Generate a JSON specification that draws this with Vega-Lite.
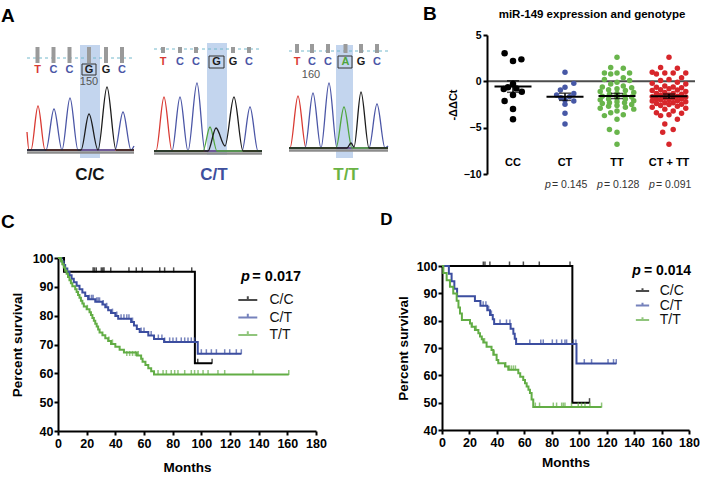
{
"$schema":"https://vega.github.io/schema/vega-lite/v6.json",
"padding":{"left":0,"top":4,"right":0,"bottom":0},
"columns":2,
"align":"each",
"bounds":"flush",
"spacing":{"row":84,"column":81},
"resolve":{"scale":{"color":"independent","fill":"independent"},"legend":{"color":"independent","fill":"independent"}},
"config":{
 "font":"Liberation Sans",
 "view":{"stroke":null},
 "axis":{"grid":false,"domainColor":"#000","tickColor":"#000","labelColor":"#000","titleColor":"#000","domainWidth":2,"tickWidth":2,"tickSize":4,"labelFontWeight":"bold","titleFontWeight":"bold","labelFont":"Liberation Sans","titleFont":"Liberation Sans","labelOverlap":false,"labelFlush":false}
},
"datasets":{
 "trace":[
  {"tr":"1T","base":"T","scan":0,"sig":18},{"tr":"1T","base":"T","scan":2,"sig":0},{"tr":"1T","base":"T","scan":4,"sig":0},{"tr":"1T","base":"T","scan":11,"sig":44},{"tr":"1T","base":"T","scan":18,"sig":0},{"tr":"1T","base":"T","scan":107,"sig":0},
  {"tr":"1C","base":"C","scan":0,"sig":0},{"tr":"1C","base":"C","scan":19,"sig":0},{"tr":"1C","base":"C","scan":27,"sig":41},{"tr":"1C","base":"C","scan":35,"sig":0},{"tr":"1C","base":"C","scan":43,"sig":52},{"tr":"1C","base":"C","scan":51,"sig":0},{"tr":"1C","base":"C","scan":88,"sig":0},{"tr":"1C","base":"C","scan":96,"sig":38},{"tr":"1C","base":"C","scan":104,"sig":0},{"tr":"1C","base":"C","scan":107,"sig":4},
  {"tr":"1G","base":"G","scan":0,"sig":0},{"tr":"1G","base":"G","scan":54,"sig":0},{"tr":"1G","base":"G","scan":62,"sig":36},{"tr":"1G","base":"G","scan":71,"sig":0},{"tr":"1G","base":"G","scan":80,"sig":63},{"tr":"1G","base":"G","scan":89,"sig":0},{"tr":"1G","base":"G","scan":107,"sig":0},
  {"tr":"2T","base":"T","scan":127,"sig":-1},{"tr":"2T","base":"T","scan":129,"sig":-1},{"tr":"2T","base":"T","scan":137,"sig":53},{"tr":"2T","base":"T","scan":145,"sig":-1},{"tr":"2T","base":"T","scan":235,"sig":-1},
  {"tr":"2C","base":"C","scan":127,"sig":-1},{"tr":"2C","base":"C","scan":145,"sig":-1},{"tr":"2C","base":"C","scan":153,"sig":53},{"tr":"2C","base":"C","scan":161,"sig":-1},{"tr":"2C","base":"C","scan":170,"sig":67},{"tr":"2C","base":"C","scan":178,"sig":-1},{"tr":"2C","base":"C","scan":215,"sig":-1},{"tr":"2C","base":"C","scan":223,"sig":43},{"tr":"2C","base":"C","scan":231,"sig":-1},{"tr":"2C","base":"C","scan":235,"sig":-1},
  {"tr":"2A","base":"A","scan":127,"sig":-1},{"tr":"2A","base":"A","scan":176,"sig":-1},{"tr":"2A","base":"A","scan":183,"sig":23},{"tr":"2A","base":"A","scan":190,"sig":-1},{"tr":"2A","base":"A","scan":235,"sig":-1},
  {"tr":"2G","base":"G","scan":127,"sig":-1},{"tr":"2G","base":"G","scan":181,"sig":-1},{"tr":"2G","base":"G","scan":189,"sig":22},{"tr":"2G","base":"G","scan":198,"sig":4},{"tr":"2G","base":"G","scan":207,"sig":53},{"tr":"2G","base":"G","scan":216,"sig":-1},{"tr":"2G","base":"G","scan":235,"sig":-1},
  {"tr":"3T","base":"T","scan":262,"sig":2},{"tr":"3T","base":"T","scan":263,"sig":2},{"tr":"3T","base":"T","scan":271,"sig":54},{"tr":"3T","base":"T","scan":279,"sig":2},{"tr":"3T","base":"T","scan":361,"sig":2},
  {"tr":"3C","base":"C","scan":262,"sig":2},{"tr":"3C","base":"C","scan":278,"sig":2},{"tr":"3C","base":"C","scan":286,"sig":57},{"tr":"3C","base":"C","scan":294,"sig":2},{"tr":"3C","base":"C","scan":302,"sig":67},{"tr":"3C","base":"C","scan":310,"sig":2},{"tr":"3C","base":"C","scan":342,"sig":2},{"tr":"3C","base":"C","scan":350,"sig":46},{"tr":"3C","base":"C","scan":358,"sig":2},{"tr":"3C","base":"C","scan":361,"sig":4},
  {"tr":"3A","base":"A","scan":262,"sig":2},{"tr":"3A","base":"A","scan":309,"sig":2},{"tr":"3A","base":"A","scan":317,"sig":43},{"tr":"3A","base":"A","scan":325,"sig":2},{"tr":"3A","base":"A","scan":361,"sig":2},
  {"tr":"3G","base":"G","scan":262,"sig":2},{"tr":"3G","base":"G","scan":320,"sig":2},{"tr":"3G","base":"G","scan":324,"sig":7},{"tr":"3G","base":"G","scan":327,"sig":3},{"tr":"3G","base":"G","scan":334,"sig":58},{"tr":"3G","base":"G","scan":342,"sig":2},{"tr":"3G","base":"G","scan":361,"sig":2}
 ],
 "calls":[
  {"scan":10.5,"sig":80,"base":"T"},{"scan":26.5,"sig":80,"base":"C"},{"scan":42.5,"sig":80,"base":"C"},{"scan":62,"sig":80,"base":"G"},{"scan":79,"sig":80,"base":"G"},{"scan":95,"sig":80,"base":"C"},
  {"scan":136,"sig":88,"base":"T"},{"scan":153,"sig":88,"base":"C"},{"scan":169,"sig":88,"base":"C"},{"scan":189.5,"sig":88,"base":"G"},{"scan":206,"sig":88,"base":"G"},{"scan":222,"sig":88,"base":"C"},
  {"scan":270,"sig":88,"base":"T"},{"scan":285,"sig":88,"base":"C"},{"scan":301,"sig":88,"base":"C"},{"scan":318.5,"sig":88,"base":"A"},{"scan":334,"sig":88,"base":"G"},{"scan":350,"sig":88,"base":"C"}
 ],
 "bars":[
  {"scan":10.5,"sig":103,"sig2":87},{"scan":26.5,"sig":103,"sig2":87},{"scan":42.5,"sig":103,"sig2":87},{"scan":62,"sig":103,"sig2":87},{"scan":79,"sig":103,"sig2":87},{"scan":95,"sig":103,"sig2":87},
  {"scan":136,"sig":103,"sig2":97},{"scan":153,"sig":103,"sig2":97},{"scan":169,"sig":103,"sig2":97},{"scan":206,"sig":103,"sig2":97},{"scan":222,"sig":103,"sig2":97},
  {"scan":270,"sig":106,"sig2":97},{"scan":285,"sig":106,"sig2":97},{"scan":301,"sig":106,"sig2":97},{"scan":318.5,"sig":106,"sig2":97},{"scan":334,"sig":106,"sig2":97},{"scan":350,"sig":106,"sig2":97}
 ],
 "hl":[{"scan":53,"scan2":73,"sig":-8,"sig2":105},{"scan":180,"scan2":200,"sig":-5,"sig2":107},{"scan":309,"scan2":326,"sig":-8,"sig2":105}],
 "box":[{"scan":55,"scan2":69,"sig":75,"sig2":86},{"scan":182,"scan2":197,"sig":82,"sig2":94},{"scan":311,"scan2":325,"sig":82,"sig2":94}],
 "dash":[{"scan":0,"scan2":107,"sig":92},{"scan":127,"scan2":235,"sig":101},{"scan":262,"scan2":361,"sig":99}],
 "baseln":[{"scan":0,"scan2":107,"sig":-2.5},{"scan":127,"scan2":235,"sig":-3.5},{"scan":262,"scan2":361,"sig":-0.5}],
 "num":[{"scan":62,"sig":68,"t":"150"},{"scan":284,"sig":75,"t":"160"}],
 "gt":[{"scan":63,"sig":-25,"t":"C/C"},{"scan":187,"sig":-25,"t":"C/T"},{"scan":319,"sig":-25,"t":"T/T"}],
 "pts":[
  {"g":"CC","v":3.02,"s":-2},{"g":"CC","v":2.19,"s":0},{"g":"CC","v":2.37,"s":2},{"g":"CC","v":-0.29,"s":0},{"g":"CC","v":-0.65,"s":-1.2},{"g":"CC","v":-0.83,"s":-2.2},{"g":"CC","v":-0.76,"s":0.8},{"g":"CC","v":-1.12,"s":2.1},{"g":"CC","v":-1.47,"s":0},{"g":"CC","v":-2.12,"s":-2},{"g":"CC","v":-2.98,"s":0},{"g":"CC","v":-4.1,"s":0},
  {"g":"CT","v":0.97,"s":0},{"g":"CT","v":-0.22,"s":2.1},{"g":"CT","v":-0.65,"s":0},{"g":"CT","v":-0.94,"s":-1.1},{"g":"CT","v":-1.3,"s":2.1},{"g":"CT","v":-1.47,"s":-2},{"g":"CT","v":-1.65,"s":1.1},{"g":"CT","v":-1.76,"s":-1},{"g":"CT","v":-2.01,"s":0},{"g":"CT","v":-2.12,"s":2.1},{"g":"CT","v":-2.48,"s":0},{"g":"CT","v":-3.45,"s":0},{"g":"CT","v":-4.6,"s":0},
  {"g":"TT","v":2.6,"s":0},{"g":"TT","v":1.5,"s":-1.5},{"g":"TT","v":1.4,"s":1.5},{"g":"TT","v":0.9,"s":-3},{"g":"TT","v":0.9,"s":0},{"g":"TT","v":0.9,"s":3},{"g":"TT","v":0.8,"s":-1.5},{"g":"TT","v":0.4,"s":1.5},{"g":"TT","v":0.2,"s":-3},{"g":"TT","v":0.1,"s":3},
  {"g":"TT","v":-0.1,"s":0},{"g":"TT","v":-0.3,"s":-1.5},{"g":"TT","v":-0.5,"s":1.5},{"g":"TT","v":-0.6,"s":-3.5},{"g":"TT","v":-0.7,"s":3.5},{"g":"TT","v":-0.8,"s":0},{"g":"TT","v":-0.9,"s":-2},{"g":"TT","v":-1.0,"s":2},{"g":"TT","v":-1.1,"s":-4},{"g":"TT","v":-1.2,"s":4},
  {"g":"TT","v":-1.3,"s":0},{"g":"TT","v":-1.4,"s":-1.8},{"g":"TT","v":-1.5,"s":1.8},{"g":"TT","v":-1.6,"s":-3.5},{"g":"TT","v":-1.7,"s":3.5},{"g":"TT","v":-1.8,"s":0},{"g":"TT","v":-1.9,"s":-2},{"g":"TT","v":-1.9,"s":2},{"g":"TT","v":-2.0,"s":-4},{"g":"TT","v":-2.1,"s":4},
  {"g":"TT","v":-2.2,"s":0},{"g":"TT","v":-2.3,"s":-1.8},{"g":"TT","v":-2.3,"s":1.8},{"g":"TT","v":-2.4,"s":-3.5},{"g":"TT","v":-2.5,"s":3.5},{"g":"TT","v":-2.6,"s":0},{"g":"TT","v":-2.7,"s":-2},{"g":"TT","v":-2.8,"s":2},{"g":"TT","v":-2.9,"s":-4},{"g":"TT","v":-3.0,"s":4},
  {"g":"TT","v":-3.2,"s":0},{"g":"TT","v":-3.4,"s":-1.5},{"g":"TT","v":-3.6,"s":1.5},{"g":"TT","v":-3.7,"s":-3},{"g":"TT","v":-4.1,"s":0},{"g":"TT","v":-5.2,"s":-1.8},{"g":"TT","v":-5.5,"s":0},{"g":"TT","v":-6.8,"s":0},
  {"g":"CT + TT","v":2.6,"s":0},{"g":"CT + TT","v":1.5,"s":-2},{"g":"CT + TT","v":1.4,"s":2},{"g":"CT + TT","v":0.97,"s":-4},{"g":"CT + TT","v":0.9,"s":4},{"g":"CT + TT","v":0.9,"s":-1},{"g":"CT + TT","v":0.9,"s":1},{"g":"CT + TT","v":0.8,"s":-3},{"g":"CT + TT","v":0.4,"s":3},{"g":"CT + TT","v":0.2,"s":0},
  {"g":"CT + TT","v":0.1,"s":-2},{"g":"CT + TT","v":-0.1,"s":2},{"g":"CT + TT","v":-0.22,"s":-4},{"g":"CT + TT","v":-0.3,"s":4},{"g":"CT + TT","v":-0.5,"s":-1},{"g":"CT + TT","v":-0.6,"s":1},{"g":"CT + TT","v":-0.65,"s":-3},{"g":"CT + TT","v":-0.7,"s":3},{"g":"CT + TT","v":-0.8,"s":0},{"g":"CT + TT","v":-0.9,"s":-2},
  {"g":"CT + TT","v":-0.94,"s":2},{"g":"CT + TT","v":-1.0,"s":-4},{"g":"CT + TT","v":-1.1,"s":4},{"g":"CT + TT","v":-1.2,"s":-1},{"g":"CT + TT","v":-1.3,"s":1},{"g":"CT + TT","v":-1.3,"s":-3},{"g":"CT + TT","v":-1.4,"s":3},{"g":"CT + TT","v":-1.47,"s":0},{"g":"CT + TT","v":-1.5,"s":-2},{"g":"CT + TT","v":-1.6,"s":2},
  {"g":"CT + TT","v":-1.65,"s":-4},{"g":"CT + TT","v":-1.7,"s":4},{"g":"CT + TT","v":-1.76,"s":-1},{"g":"CT + TT","v":-1.8,"s":1},{"g":"CT + TT","v":-1.9,"s":-3},{"g":"CT + TT","v":-1.9,"s":3},{"g":"CT + TT","v":-2.0,"s":0},{"g":"CT + TT","v":-2.01,"s":-2},{"g":"CT + TT","v":-2.1,"s":2},{"g":"CT + TT","v":-2.12,"s":-4},
  {"g":"CT + TT","v":-2.2,"s":4},{"g":"CT + TT","v":-2.3,"s":-1},{"g":"CT + TT","v":-2.3,"s":1},{"g":"CT + TT","v":-2.4,"s":-3},{"g":"CT + TT","v":-2.48,"s":3},{"g":"CT + TT","v":-2.5,"s":0},{"g":"CT + TT","v":-2.6,"s":-2},{"g":"CT + TT","v":-2.7,"s":2},{"g":"CT + TT","v":-2.8,"s":-4},{"g":"CT + TT","v":-2.9,"s":4},
  {"g":"CT + TT","v":-3.0,"s":-1},{"g":"CT + TT","v":-3.2,"s":1},{"g":"CT + TT","v":-3.4,"s":-3},{"g":"CT + TT","v":-3.45,"s":3},{"g":"CT + TT","v":-3.6,"s":0},{"g":"CT + TT","v":-3.7,"s":-2},{"g":"CT + TT","v":-4.1,"s":2},{"g":"CT + TT","v":-4.6,"s":-1},{"g":"CT + TT","v":-5.2,"s":1},{"g":"CT + TT","v":-5.5,"s":-1.5},
  {"g":"CT + TT","v":-6.8,"s":0}
 ],
 "cats":[{"g":"CC"},{"g":"CT"},{"g":"TT"},{"g":"CT + TT"}],
 "pv":[{"g":"CT","p":"= 0.145"},{"g":"TT","p":"= 0.128"},{"g":"CT + TT","p":"= 0.091"}],
 "cStep":[
  {"g":"C/C","m":0,"s":100},{"g":"C/C","m":4.2,"s":95.2},{"g":"C/C","m":95.5,"s":63.5},{"g":"C/C","m":107.5,"s":63.5},
  {"g":"C/T","m":0,"s":100},{"g":"C/T","m":2.5,"s":98.8},{"g":"C/T","m":4,"s":97.6},{"g":"C/T","m":5,"s":96.4},{"g":"C/T","m":6.5,"s":95.2},{"g":"C/T","m":8,"s":94},{"g":"C/T","m":9.5,"s":92.8},{"g":"C/T","m":11,"s":91.6},{"g":"C/T","m":13,"s":90.4},{"g":"C/T","m":15,"s":89.2},{"g":"C/T","m":17,"s":88},{"g":"C/T","m":19,"s":86.8},{"g":"C/T","m":21,"s":85.7},{"g":"C/T","m":26,"s":84.8},{"g":"C/T","m":31,"s":83.9},{"g":"C/T","m":33,"s":82.9},{"g":"C/T","m":35,"s":81.9},{"g":"C/T","m":37,"s":80.9},{"g":"C/T","m":40,"s":79.9},{"g":"C/T","m":42,"s":78.9},{"g":"C/T","m":51,"s":77.8},{"g":"C/T","m":53,"s":76.6},{"g":"C/T","m":55,"s":75.4},{"g":"C/T","m":57,"s":74.3},{"g":"C/T","m":63,"s":73.1},{"g":"C/T","m":67,"s":71.9},{"g":"C/T","m":74,"s":70.9},{"g":"C/T","m":97.5,"s":66.8},{"g":"C/T","m":127.9,"s":66.8},
  {"g":"T/T","m":0,"s":100},{"g":"T/T","m":2,"s":98.9},{"g":"T/T","m":3,"s":97.8},{"g":"T/T","m":4,"s":96.7},{"g":"T/T","m":5,"s":95.6},{"g":"T/T","m":6,"s":94.5},{"g":"T/T","m":7,"s":93.4},{"g":"T/T","m":8,"s":92.3},{"g":"T/T","m":9,"s":91.2},{"g":"T/T","m":10,"s":90.2},{"g":"T/T","m":12,"s":89.2},{"g":"T/T","m":13,"s":88.2},{"g":"T/T","m":14,"s":87.2},{"g":"T/T","m":15,"s":86.2},{"g":"T/T","m":16,"s":85.2},{"g":"T/T","m":17,"s":84.2},{"g":"T/T","m":18,"s":83.2},{"g":"T/T","m":20,"s":82.2},{"g":"T/T","m":22,"s":81.2},{"g":"T/T","m":23,"s":80.2},{"g":"T/T","m":24,"s":79.2},{"g":"T/T","m":25,"s":78.2},{"g":"T/T","m":26,"s":77.2},{"g":"T/T","m":27,"s":76.2},{"g":"T/T","m":28,"s":75.2},{"g":"T/T","m":29,"s":74.2},{"g":"T/T","m":31,"s":73.2},{"g":"T/T","m":33,"s":72.2},{"g":"T/T","m":35,"s":71.2},{"g":"T/T","m":37,"s":70.2},{"g":"T/T","m":40,"s":69.2},{"g":"T/T","m":43,"s":68.2},{"g":"T/T","m":46,"s":67.2},{"g":"T/T","m":55,"s":66.2},{"g":"T/T","m":58,"s":65.1},{"g":"T/T","m":59,"s":64},{"g":"T/T","m":61,"s":62.9},{"g":"T/T","m":63,"s":61.8},{"g":"T/T","m":65,"s":60.7},{"g":"T/T","m":67,"s":59.6},{"g":"T/T","m":161,"s":59.6}
 ],
 "cCens":[
  {"g":"C/C","m":24.5,"s":95.2},{"g":"C/C","m":25.5,"s":95.2},{"g":"C/C","m":26.7,"s":95.2},{"g":"C/C","m":30.2,"s":95.2},{"g":"C/C","m":31.2,"s":95.2},{"g":"C/C","m":32.1,"s":95.2},{"g":"C/C","m":36.8,"s":95.2},{"g":"C/C","m":49.5,"s":95.2},{"g":"C/C","m":54.6,"s":95.2},{"g":"C/C","m":58.8,"s":95.2},{"g":"C/C","m":71,"s":95.2},{"g":"C/C","m":74.4,"s":95.2},{"g":"C/C","m":80.7,"s":95.2},{"g":"C/C","m":93.3,"s":95.2},{"g":"C/C","m":97.5,"s":63.5},{"g":"C/C","m":107.5,"s":63.5},
  {"g":"C/T","m":22,"s":85.7},{"g":"C/T","m":23.5,"s":85.7},{"g":"C/T","m":24.5,"s":85.7},{"g":"C/T","m":27,"s":84.8},{"g":"C/T","m":28,"s":84.8},{"g":"C/T","m":29,"s":84.8},{"g":"C/T","m":31.5,"s":83.9},{"g":"C/T","m":34,"s":82.9},{"g":"C/T","m":38,"s":80.9},{"g":"C/T","m":41,"s":79.9},{"g":"C/T","m":44,"s":78.9},{"g":"C/T","m":46,"s":78.9},{"g":"C/T","m":48,"s":78.9},{"g":"C/T","m":49.5,"s":78.9},{"g":"C/T","m":52,"s":77.8},{"g":"C/T","m":58,"s":74.3},{"g":"C/T","m":60,"s":74.3},{"g":"C/T","m":65,"s":73.1},{"g":"C/T","m":70,"s":71.9},{"g":"C/T","m":72.5,"s":71.9},{"g":"C/T","m":74.4,"s":70.9},{"g":"C/T","m":77.9,"s":70.9},{"g":"C/T","m":80.2,"s":70.9},{"g":"C/T","m":82.6,"s":70.9},{"g":"C/T","m":86,"s":70.9},{"g":"C/T","m":88.4,"s":70.9},{"g":"C/T","m":90.7,"s":70.9},{"g":"C/T","m":93,"s":70.9},{"g":"C/T","m":95.3,"s":70.9},{"g":"C/T","m":100,"s":66.8},{"g":"C/T","m":103.5,"s":66.8},{"g":"C/T","m":107,"s":66.8},{"g":"C/T","m":110.5,"s":66.8},{"g":"C/T","m":116.3,"s":66.8},{"g":"C/T","m":119.8,"s":66.8},{"g":"C/T","m":124.4,"s":66.8},{"g":"C/T","m":127.9,"s":66.8},
  {"g":"T/T","m":20.5,"s":82.2},{"g":"T/T","m":35.5,"s":71.2},{"g":"T/T","m":38,"s":70.2},{"g":"T/T","m":48,"s":66.2},{"g":"T/T","m":50,"s":66.2},{"g":"T/T","m":52,"s":66.2},{"g":"T/T","m":54,"s":66.2},{"g":"T/T","m":56,"s":66.2},{"g":"T/T","m":69.8,"s":59.6},{"g":"T/T","m":73.3,"s":59.6},{"g":"T/T","m":75.6,"s":59.6},{"g":"T/T","m":79,"s":59.6},{"g":"T/T","m":81.4,"s":59.6},{"g":"T/T","m":83.7,"s":59.6},{"g":"T/T","m":88.4,"s":59.6},{"g":"T/T","m":93,"s":59.6},{"g":"T/T","m":95.3,"s":59.6},{"g":"T/T","m":97.7,"s":59.6},{"g":"T/T","m":101.2,"s":59.6},{"g":"T/T","m":104.7,"s":59.6},{"g":"T/T","m":111.6,"s":59.6},{"g":"T/T","m":116.3,"s":59.6},{"g":"T/T","m":136,"s":59.6},{"g":"T/T","m":161,"s":59.6}
 ],
 "dStep":[
  {"g":"C/C","m":0,"s":100},{"g":"C/C","m":95,"s":50},{"g":"C/C","m":107.5,"s":50},
  {"g":"C/T","m":0,"s":100},{"g":"C/T","m":5,"s":97.2},{"g":"C/T","m":7,"s":94.4},{"g":"C/T","m":9,"s":91.7},{"g":"C/T","m":11,"s":88.9},{"g":"C/T","m":24,"s":87.2},{"g":"C/T","m":28,"s":85.5},{"g":"C/T","m":33,"s":83.8},{"g":"C/T","m":35,"s":82.1},{"g":"C/T","m":37,"s":80.5},{"g":"C/T","m":38,"s":78.8},{"g":"C/T","m":50,"s":77},{"g":"C/T","m":52,"s":75.2},{"g":"C/T","m":53,"s":73.4},{"g":"C/T","m":54,"s":71.5},{"g":"C/T","m":98,"s":64.3},{"g":"C/T","m":127,"s":64.3},
  {"g":"T/T","m":0,"s":100},{"g":"T/T","m":1,"s":97.4},{"g":"T/T","m":3.4,"s":94.8},{"g":"T/T","m":5.8,"s":92.4},{"g":"T/T","m":8.2,"s":89.9},{"g":"T/T","m":10.7,"s":87.3},{"g":"T/T","m":12,"s":84.8},{"g":"T/T","m":13.1,"s":82.6},{"g":"T/T","m":14.5,"s":80.2},{"g":"T/T","m":20.4,"s":79},{"g":"T/T","m":21.6,"s":77.8},{"g":"T/T","m":24,"s":76.6},{"g":"T/T","m":26.5,"s":75.4},{"g":"T/T","m":27.7,"s":74.2},{"g":"T/T","m":29,"s":73.2},{"g":"T/T","m":30.1,"s":72},{"g":"T/T","m":32.5,"s":70.5},{"g":"T/T","m":36.1,"s":69.3},{"g":"T/T","m":37.4,"s":67.5},{"g":"T/T","m":39.8,"s":65.6},{"g":"T/T","m":41,"s":64.4},{"g":"T/T","m":45.9,"s":63.2},{"g":"T/T","m":48.3,"s":62},{"g":"T/T","m":55.6,"s":60.8},{"g":"T/T","m":57,"s":59.5},{"g":"T/T","m":59.2,"s":58.3},{"g":"T/T","m":60.5,"s":57.1},{"g":"T/T","m":61.7,"s":55.9},{"g":"T/T","m":63,"s":54.7},{"g":"T/T","m":64.1,"s":53.5},{"g":"T/T","m":65.3,"s":51.2},{"g":"T/T","m":66.5,"s":48.4},{"g":"T/T","m":116.3,"s":48.4}
 ],
 "dCens":[
  {"g":"C/C","m":30.1,"s":100},{"g":"C/C","m":31.3,"s":100},{"g":"C/C","m":34.9,"s":100},{"g":"C/C","m":49.2,"s":100},{"g":"C/C","m":59.3,"s":100},{"g":"C/C","m":70.9,"s":100},{"g":"C/C","m":93.3,"s":100},{"g":"C/C","m":107.5,"s":50},
  {"g":"C/T","m":30,"s":85.5},{"g":"C/T","m":32,"s":85.5},{"g":"C/T","m":34,"s":83.8},{"g":"C/T","m":36,"s":82.1},{"g":"C/T","m":42.3,"s":78.8},{"g":"C/T","m":47,"s":78.8},{"g":"C/T","m":49.5,"s":78.8},{"g":"C/T","m":64,"s":71.5},{"g":"C/T","m":72,"s":71.5},{"g":"C/T","m":73.8,"s":71.5},{"g":"C/T","m":80.4,"s":71.5},{"g":"C/T","m":83.5,"s":71.5},{"g":"C/T","m":87.2,"s":71.5},{"g":"C/T","m":89.6,"s":71.5},{"g":"C/T","m":90.8,"s":71.5},{"g":"C/T","m":95.7,"s":71.5},{"g":"C/T","m":97.6,"s":71.5},{"g":"C/T","m":103.7,"s":64.3},{"g":"C/T","m":109,"s":64.3},{"g":"C/T","m":121,"s":64.3},{"g":"C/T","m":125,"s":64.3},{"g":"C/T","m":127,"s":64.3},
  {"g":"T/T","m":22,"s":77.8},{"g":"T/T","m":25,"s":76.6},{"g":"T/T","m":31,"s":72},{"g":"T/T","m":38,"s":67.5},{"g":"T/T","m":46.5,"s":63.2},{"g":"T/T","m":49,"s":62},{"g":"T/T","m":50.5,"s":62},{"g":"T/T","m":52,"s":62},{"g":"T/T","m":53.5,"s":62},{"g":"T/T","m":68,"s":48.4},{"g":"T/T","m":71.1,"s":48.4},{"g":"T/T","m":81.1,"s":48.4},{"g":"T/T","m":83.5,"s":48.4},{"g":"T/T","m":87.2,"s":48.4},{"g":"T/T","m":88.4,"s":48.4},{"g":"T/T","m":89.6,"s":48.4},{"g":"T/T","m":94.4,"s":48.4},{"g":"T/T","m":99.3,"s":48.4},{"g":"T/T","m":101.7,"s":48.4},{"g":"T/T","m":104.2,"s":48.4},{"g":"T/T","m":107.8,"s":48.4},{"g":"T/T","m":116.3,"s":48.4}
 ]
},
"concat":[
 {
  "width":303,"height":131,
  "layer":[
   {"data":{"name":"hl"},"mark":{"type":"rect","color":"#c3d5ee"},"encoding":{
     "x":{"field":"scan","type":"quantitative","scale":{"domain":[31,334],"nice":false,"zero":false},"axis":null},
     "y":{"field":"sig","type":"quantitative","scale":{"domain":[-16,115],"nice":false,"zero":false},"axis":null},
     "x2":{"field":"scan2"},"y2":{"field":"sig2"}}},
   {"data":{"name":"dash"},"mark":{"type":"rule","color":"#74b9cc","strokeWidth":1,"strokeDash":[3,3]},"encoding":{
     "x":{"field":"scan","type":"quantitative","axis":null},"y":{"field":"sig","type":"quantitative","axis":null},"x2":{"field":"scan2"}}},
   {"data":{"name":"bars"},"mark":{"type":"rule","color":"#9a9a9a","strokeWidth":4},"encoding":{
     "x":{"field":"scan","type":"quantitative","axis":null},"y":{"field":"sig","type":"quantitative","axis":null},"y2":{"field":"sig2"}}},
   {"data":{"name":"baseln"},"mark":{"type":"rule","color":"#8c8c8c","strokeWidth":2.5},"encoding":{
     "x":{"field":"scan","type":"quantitative","axis":null},"y":{"field":"sig","type":"quantitative","axis":null},"x2":{"field":"scan2"}}},
   {"data":{"name":"trace"},"mark":{"type":"line","interpolate":"monotone","strokeWidth":1.3},"encoding":{
     "x":{"field":"scan","type":"quantitative","axis":null},"y":{"field":"sig","type":"quantitative","axis":null},
     "detail":{"field":"tr","type":"nominal"},
     "color":{"field":"base","type":"nominal","scale":{"domain":["T","C","G","A"],"range":["#d93a33","#4b56a6","#1c1c1c","#4fa53c"]},"legend":null}}},
   {"data":{"name":"box"},"mark":{"type":"rect","filled":false,"color":"#333333","strokeWidth":1},"encoding":{
     "x":{"field":"scan","type":"quantitative","axis":null},"y":{"field":"sig","type":"quantitative","axis":null},"x2":{"field":"scan2"},"y2":{"field":"sig2"}}},
   {"data":{"name":"calls"},"mark":{"type":"text","fontSize":11,"fontWeight":"bold","baseline":"middle"},"encoding":{
     "x":{"field":"scan","type":"quantitative","axis":null},"y":{"field":"sig","type":"quantitative","axis":null},
     "text":{"field":"base"},"color":{"field":"base","type":"nominal","legend":null}}},
   {"data":{"name":"num"},"mark":{"type":"text","fontSize":11,"color":"#555555","baseline":"middle"},"encoding":{
     "x":{"field":"scan","type":"quantitative","axis":null},"y":{"field":"sig","type":"quantitative","axis":null},"text":{"field":"t"}}},
   {"data":{"name":"gt"},"mark":{"type":"text","fontSize":17,"fontWeight":"bold","baseline":"middle"},"encoding":{
     "x":{"field":"scan","type":"quantitative","axis":null},"y":{"field":"sig","type":"quantitative","axis":null},
     "text":{"field":"t"},"fill":{"field":"t","type":"nominal","scale":{"domain":["C/C","C/T","T/T"],"range":["#151515","#3e4f9d","#6ab344"]},"legend":null}}},
   {"data":{"values":[{}]},"mark":{"type":"text","fontSize":19,"fontWeight":"bold","align":"left","baseline":"alphabetic"},"encoding":{
     "x":{"datum":-26,"axis":null},"y":{"datum":128,"axis":null},"text":{"value":"A"}}}
  ]
 },
 {
  "width":253,"height":139,
  "data":{"name":"pts"},
  "layer":[
   {"data":{"name":"cats"},"mark":{"type":"tick","size":52,"thickness":2,"color":"#000"},
    "encoding":{"x":{"field":"g","type":"nominal","sort":["CC","CT","TT","CT + TT"],"scale":{"domain":["CC","CT","TT","CT + TT"],"range":[45,253],"paddingInner":0,"paddingOuter":0},"axis":null},"y":{"datum":0,"type":"quantitative"}}},
   {"mark":{"type":"circle","opacity":1},
    "encoding":{
     "x":{"field":"g","type":"nominal","axis":null},
     "xOffset":{"field":"s","type":"quantitative","scale":{"domain":[-6.2,6.2]}},
     "y":{"field":"v","type":"quantitative","scale":{"domain":[-10,5],"nice":false,"zero":false},"axis":{"values":[-10,-5,0,5],"title":"-ΔΔCt","offset":-45,"labelFontSize":10.5,"titleFontSize":11,"labelPadding":2,"titlePadding":5}},
     "color":{"field":"g","type":"nominal","scale":{"domain":["CC","CT","TT","CT + TT"],"range":["#000000","#4758a6","#69b54c","#d7262b"]},"legend":null},
     "size":{"condition":{"test":"datum.g === 'CC'","value":42},"value":30}
    }},
   {"mark":{"type":"errorbar","extent":"stderr","ticks":true,"size":12,"thickness":1.5,"color":"#000"},
    "encoding":{"x":{"field":"g","type":"nominal","axis":null},"y":{"field":"v","type":"quantitative","title":"-ΔΔCt"}}},
   {"mark":{"type":"tick","size":37,"thickness":2,"color":"#000"},
    "encoding":{"x":{"field":"g","type":"nominal","axis":null},"y":{"aggregate":"mean","field":"v","type":"quantitative","title":"-ΔΔCt"}}},
   {"data":{"name":"cats"},"mark":{"type":"text","fontSize":11,"fontWeight":"bold","baseline":"middle"},
    "encoding":{"x":{"field":"g","type":"nominal","axis":null},"y":{"datum":-8.81},"text":{"field":"g"}}},
   {"data":{"name":"pv"},"mark":{"type":"text","fontSize":10.5,"fontStyle":"italic","align":"left","baseline":"middle","dx":-20,"color":"#333"},
    "encoding":{"x":{"field":"g","type":"nominal","axis":null},"y":{"datum":-11.2},"text":{"value":"p"}}},
   {"data":{"name":"pv"},"mark":{"type":"text","fontSize":10.5,"align":"left","baseline":"middle","dx":-13,"color":"#333"},
    "encoding":{"x":{"field":"g","type":"nominal","axis":null},"y":{"datum":-11.2},"text":{"field":"p"}}},
   {"data":{"values":[{}]},"mark":{"type":"text","fontSize":11.5,"fontWeight":"bold","baseline":"alphabetic","dx":27},
    "encoding":{"x":{"datum":"CT","axis":null},"y":{"datum":6.83},"text":{"value":"miR-149 expression and genotype"}}},
   {"data":{"values":[{}]},"mark":{"type":"text","fontSize":19,"fontWeight":"bold","align":"left","baseline":"alphabetic","dx":-90},
    "encoding":{"x":{"datum":"CC","axis":null},"y":{"datum":6.62},"text":{"value":"B"}}}
  ]
 },
 {
  "width":258,"height":173,
  "encoding":{
   "x":{"field":"m","type":"quantitative","scale":{"domain":[0,180],"nice":false,"zero":false},"axis":{"values":[0,20,40,60,80,100,120,140,160,180],"title":"Months","labelFontSize":12.5,"titleFontSize":13.5,"labelPadding":2,"titlePadding":11,"labelOverlap":false}},
   "y":{"field":"s","type":"quantitative","scale":{"domain":[40,100],"nice":false,"zero":false},"axis":{"values":[40,50,60,70,80,90,100],"title":"Percent survival","labelFontSize":12.5,"titleFontSize":13.5,"labelPadding":1,"titlePadding":8,"labelOverlap":false}}
  },
  "layer":[
   {"data":{"name":"cStep"},"mark":{"type":"line","interpolate":"step-after","strokeWidth":2},
    "encoding":{"color":{"field":"g","type":"nominal","scale":{"domain":["C/C","C/T","T/T"],"range":["#000000","#3c4ea0","#62ad45"]},
     "legend":{"title":null,"orient":"none","legendX":182.8,"legendY":35,"symbolType":"M-2,0H2M0,0V-0.8","symbolSize":90,"symbolStrokeWidth":2,"symbolFillColor":"transparent","labelFontSize":14,"labelFontWeight":"normal","labelColor":"#111","labelOffset":14.7,"rowPadding":2.5,"padding":0}}}},
   {"data":{"name":"cCens"},"mark":{"type":"tick","orient":"vertical","size":5,"thickness":1.5,"yOffset":-2},
    "encoding":{"color":{"field":"g","type":"nominal"}}},
   {"data":{"values":[{"m":-39.8,"s":110.3}]},"mark":{"type":"text","fontSize":19,"fontWeight":"bold","align":"left","baseline":"alphabetic"},"encoding":{"text":{"value":"C"}}},
   {"data":{"values":[{"m":127.7,"s":92}]},"mark":{"type":"text","fontSize":14.5,"fontWeight":"bold","fontStyle":"italic","align":"left","baseline":"alphabetic"},"encoding":{"text":{"value":"p"}}},
   {"data":{"values":[{"m":135.6,"s":92}]},"mark":{"type":"text","fontSize":14.5,"fontWeight":"bold","align":"left","baseline":"alphabetic"},"encoding":{"text":{"value":"= 0.017"}}}
  ]
 },
 {
  "width":247,"height":172,
  "encoding":{
   "x":{"field":"m","type":"quantitative","scale":{"domain":[0,180],"nice":false,"zero":false},"axis":{"values":[0,20,40,60,80,100,120,140,160,180],"title":"Months","labelFontSize":12.5,"titleFontSize":13.5,"labelPadding":2,"titlePadding":7,"labelOverlap":false}},
   "y":{"field":"s","type":"quantitative","scale":{"domain":[40,100],"range":[172,8],"nice":false,"zero":false},"axis":{"values":[40,50,60,70,80,90,100],"title":"Percent survival","labelFontSize":12.5,"titleFontSize":13.5,"labelPadding":1,"titlePadding":6,"labelOverlap":false}}
  },
  "layer":[
   {"data":{"name":"dStep"},"mark":{"type":"line","interpolate":"step-after","strokeWidth":2},
    "encoding":{"color":{"field":"g","type":"nominal","scale":{"domain":["C/C","C/T","T/T"],"range":["#000000","#3c4ea0","#62ad45"]},
     "legend":{"title":null,"orient":"none","legendX":193.5,"legendY":26,"symbolType":"M-2,0H2M0,0V-0.8","symbolSize":44,"symbolStrokeWidth":2,"symbolFillColor":"transparent","labelFontSize":14,"labelFontWeight":"normal","labelColor":"#111","labelOffset":10.2,"rowPadding":0.5,"padding":0}}}},
   {"data":{"name":"dCens"},"mark":{"type":"tick","orient":"vertical","size":5,"thickness":1.5,"yOffset":-2},
    "encoding":{"color":{"field":"g","type":"nominal"}}},
   {"data":{"values":[{"m":-45,"s":114.9}]},"mark":{"type":"text","fontSize":17,"fontWeight":"bold","align":"left","baseline":"alphabetic"},"encoding":{"text":{"value":"D"}}},
   {"data":{"values":[{"m":138.7,"s":96.6}]},"mark":{"type":"text","fontSize":14,"fontWeight":"bold","fontStyle":"italic","align":"left","baseline":"alphabetic"},"encoding":{"text":{"value":"p"}}},
   {"data":{"values":[{"m":147.2,"s":96.6}]},"mark":{"type":"text","fontSize":14,"fontWeight":"bold","align":"left","baseline":"alphabetic"},"encoding":{"text":{"value":"= 0.014"}}}
  ]
 }
]
}
